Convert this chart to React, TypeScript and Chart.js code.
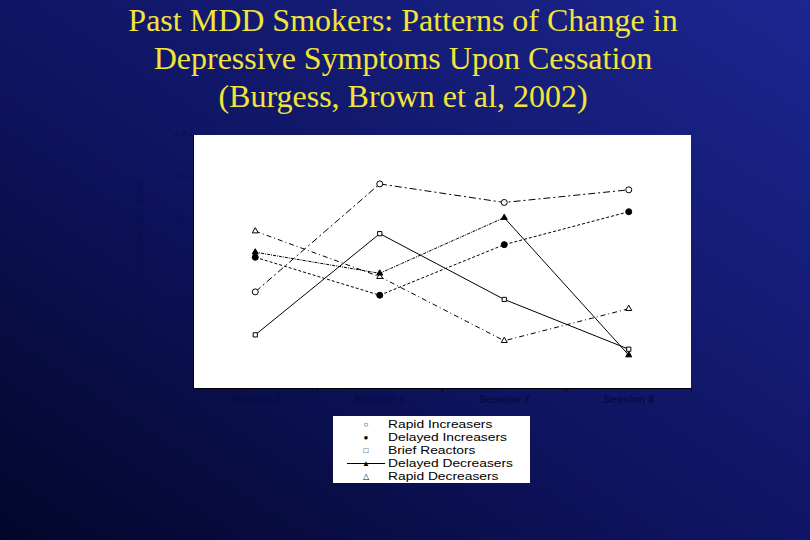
import { useEffect, useRef } from "react"
import { Chart, registerables } from "chart.js"

Chart.register(...registerables)

const sessions = ["Session 1", "Session 5", "Session 7", "Session 8"]
const yTicks = [1, 1.5, 2, 2.5, 3, 3.5, 4]

const rapidIncreasers = [2.14, 3.42, 3.2, 3.35]
const delayedIncreasers = [2.55, 2.1, 2.7, 3.09]
const briefReactors = [1.63, 2.83, 2.05, 1.46]
const delayedDecreasers = [2.61, 2.36, 3.02, 1.39]
const rapidDecreasers = [2.86, 2.32, 1.56, 1.94]

const legendItems = [
  { label: "Rapid Increasers", symbol: "○", line: false },
  { label: "Delayed Increasers", symbol: "●", line: false },
  { label: "Brief Reactors", symbol: "□", line: false },
  { label: "Delayed Decreasers", symbol: "▲", line: true },
  { label: "Rapid Decreasers", symbol: "△", line: false },
]

// fond blanc de la zone de tracé
const whiteArea = {
  id: "whiteArea",
  beforeDraw(chart: Chart) {
    const { ctx, chartArea } = chart
    ctx.save()
    ctx.fillStyle = "#ffffff"
    ctx.fillRect(chartArea.left, chartArea.top, chartArea.right - chartArea.left, chartArea.bottom - chartArea.top)
    ctx.restore()
  },
}

export default function App() {
  const canvasRef = useRef<HTMLCanvasElement>(null)
  const chartRef = useRef<Chart | null>(null)

  useEffect(() => {
    if (!canvasRef.current) return
    chartRef.current?.destroy()

    const serie = (label: string, data: number[], style: string, dash: number[], fill: string, solidLast = false) => ({
      label,
      data,
      borderColor: "#000000",
      borderWidth: 1,
      borderDash: dash,
      segment: solidLast ? { borderDash: (c: any) => (c.p0DataIndex === 2 ? [] : dash) } : undefined,
      pointStyle: style,
      pointRadius: style === "triangle" ? 3.5 : 3,
      pointBorderColor: "#000000",
      pointBorderWidth: 1,
      pointBackgroundColor: fill,
      tension: 0,
    })

    chartRef.current = new Chart(canvasRef.current, {
      type: "line",
      data: {
        labels: sessions,
        datasets: [
          serie("Rapid Increasers", rapidIncreasers, "circle", [7, 3, 2, 3], "#ffffff"),
          serie("Delayed Increasers", delayedIncreasers, "circle", [3, 2], "#000000"),
          serie("Brief Reactors", briefReactors, "rect", [], "#ffffff"),
          serie("Delayed Decreasers", delayedDecreasers, "triangle", [3, 1, 1, 1], "#000000", true),
          serie("Rapid Decreasers", rapidDecreasers, "triangle", [5, 3, 1, 3], "#ffffff"),
        ],
      },
      options: {
        animation: false,
        responsive: false,
        layout: { padding: { left: 134, top: 135, right: 119, bottom: 122 } },
        plugins: { legend: { display: false }, tooltip: { enabled: false } },
        scales: {
          x: {
            offset: true,
            afterFit: (s: any) => {
              s.height = 30
            },
            border: { color: "#000000", width: 1 },
            grid: { offset: true, drawOnChartArea: false, tickLength: 3, color: "#000000" },
            ticks: {
              color: "#070c44",
              font: { family: "Liberation Sans, Arial", size: 11, weight: "bold" },
              padding: 2,
            },
          },
          y: {
            min: 1,
            max: 4,
            afterFit: (s: any) => {
              s.width = 59
            },
            afterBuildTicks: (s: any) => {
              s.ticks = yTicks.map((v) => ({ value: v }))
            },
            border: { color: "#000000", width: 1 },
            grid: { drawOnChartArea: false, tickLength: 4, color: "#0a1040" },
            ticks: {
              color: "#0a1050",
              font: { family: "Liberation Sans, Arial", size: 9 },
              padding: 3,
            },
            title: {
              display: true,
              text: "Square-Root Transformed BDI Score",
              color: "#0a1048",
              font: { family: "Liberation Sans Narrow, Liberation Sans, Arial", size: 10 },
              padding: 0,
            },
          },
        },
      },
      plugins: [whiteArea],
    })

    return () => {
      chartRef.current?.destroy()
      chartRef.current = null
    }
  }, [])

  return (
    <div
      style={{
        position: "absolute",
        left: 0,
        top: 0,
        width: 810,
        height: 540,
        overflow: "hidden",
        background: "linear-gradient(to top right, #03062a 0%, #0e1460 45%, #1c2690 100%)",
      }}
    >
      {/* Titre */}
      <div
        style={{
          position: "absolute",
          left: 0,
          top: 1,
          width: 806,
          textAlign: "center",
          color: "#f2e43a",
          fontFamily: "Liberation Serif, Times New Roman, serif",
          fontSize: 32,
          lineHeight: "38px",
        }}
      >
        Past MDD Smokers: Patterns of Change in
        <br />
        Depressive Symptoms Upon Cessation
        <br />
        (Burgess, Brown et al, 2002)
      </div>

      <canvas ref={canvasRef} width={810} height={540} style={{ position: "absolute", left: 0, top: 0 }} />

      {/* Légende */}
      <div
        style={{
          position: "absolute",
          left: 333,
          top: 416,
          width: 197,
          height: 67,
          background: "#ffffff",
          fontFamily: "Liberation Sans, Arial",
          fontSize: 11.5,
          color: "#000000",
        }}
      >
        {legendItems.map((item, i) => (
          <div key={item.label} style={{ position: "absolute", left: 0, top: 2 + i * 13, height: 13, width: 197 }}>
            {item.line && (
              <div style={{ position: "absolute", left: 14, top: 6, width: 38, height: 1, background: "#000000" }} />
            )}
            <span
              style={{
                position: "absolute",
                left: 27,
                top: 0,
                width: 12,
                textAlign: "center",
                fontSize: 8,
                lineHeight: "13px",
              }}
            >
              {item.symbol}
            </span>
            <span
              style={{
                position: "absolute",
                left: 55,
                top: 0,
                lineHeight: "13px",
                whiteSpace: "nowrap",
                transform: "scaleX(1.2)",
                transformOrigin: "left center",
              }}
            >
              {item.label}
            </span>
          </div>
        ))}
      </div>
    </div>
  )
}
